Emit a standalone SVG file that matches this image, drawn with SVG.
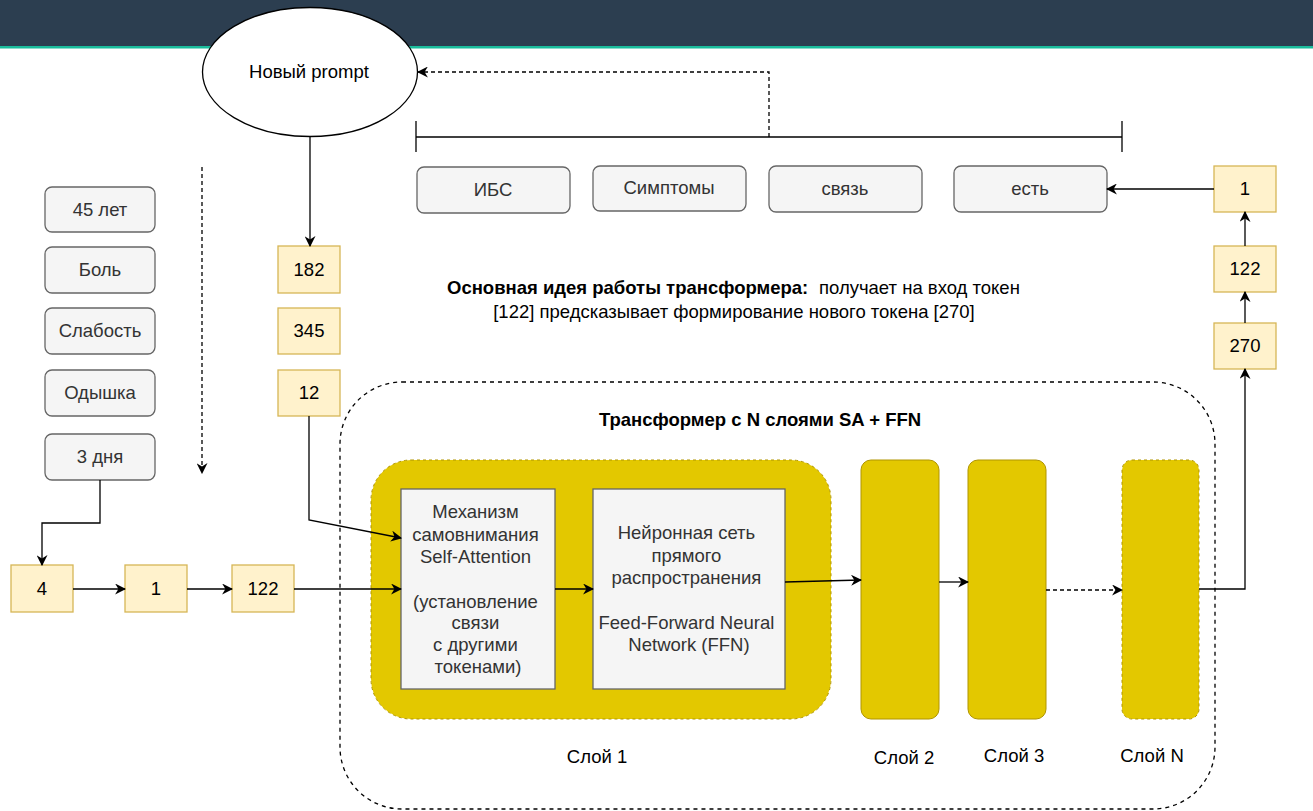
<svg xmlns="http://www.w3.org/2000/svg" width="1313" height="811" viewBox="0 0 1313 811">
<style>
text{font-family:"Liberation Sans",Arial,sans-serif;font-size:18.5px;fill:#000;}
.g{fill:#f5f5f5;stroke:#666;stroke-width:1.3;}
.gt{fill:#333;text-anchor:middle;}
.y{fill:#fff2cc;stroke:#d6b656;stroke-width:1.3;}
.yt{fill:#000;text-anchor:middle;}
.lay{fill:#e3c800;stroke:#b09500;stroke-width:1;}
.dsh{stroke-dasharray:3 3;}
.c{fill:none;stroke:#000;stroke-width:1.3;}
.cd{fill:none;stroke:#000;stroke-width:1.3;stroke-dasharray:4 3;}
.lbl{text-anchor:middle;fill:#000;}
</style>
<defs>
<marker id="ar" viewBox="0 0 10 10" refX="9" refY="5" markerWidth="11" markerHeight="11" markerUnits="userSpaceOnUse" orient="auto">
<path d="M0,0 L10,5 L0,10 L3,5 z" fill="#000"/>
</marker>
</defs>
<rect x="0" y="0" width="1313" height="811" fill="#fff"/>
<g id="header">
<rect x="0" y="0" width="1313" height="46" fill="#2c3e50"/>
<rect x="0" y="46" width="1313" height="2.5" fill="#1abc9c"/>
</g>

<g id="container">
<rect x="340" y="382" width="875" height="427" rx="62" ry="62" fill="none" stroke="#000" stroke-width="1.3" stroke-dasharray="4 4"/>
<text x="760" y="426" class="lbl" font-weight="bold">Трансформер с N слоями SA + FFN</text>
</g>

<g id="prompt">
<ellipse cx="310" cy="72" rx="107.5" ry="64.5" fill="#fff" stroke="#000" stroke-width="1.3"/>
<text x="309" y="78" class="lbl">Новый prompt</text>
</g>

<g id="bracket">
<line x1="416" y1="137" x2="1122" y2="137" stroke="#000" stroke-width="1.3"/>
<line x1="416" y1="121" x2="416" y2="152" stroke="#000" stroke-width="1.3"/>
<line x1="1122" y1="121" x2="1122" y2="152" stroke="#000" stroke-width="1.3"/>
</g>

<g id="top-words">
<g id="w-ibs"><rect x="417" y="167" width="153" height="46" rx="7" class="g"/><text x="493" y="196" class="gt">ИБС</text></g>
<g id="w-simp"><rect x="593" y="166" width="153" height="45" rx="7" class="g"/><text x="669" y="194" class="gt">Симптомы</text></g>
<g id="w-svyaz"><rect x="769" y="166" width="153" height="46" rx="7" class="g"/><text x="845" y="195" class="gt">связь</text></g>
<g id="w-est"><rect x="954" y="166" width="153" height="46" rx="7" class="g"/><text x="1030" y="195" class="gt">есть</text></g>
</g>

<g id="left-words">
<g id="w-45"><rect x="45" y="187" width="110" height="45" rx="7" class="g"/><text x="100" y="216" class="gt">45 лет</text></g>
<g id="w-bol"><rect x="45" y="247" width="110" height="46" rx="7" class="g"/><text x="100" y="276" class="gt">Боль</text></g>
<g id="w-slab"><rect x="45" y="308" width="110" height="46" rx="7" class="g"/><text x="100" y="337" class="gt">Слабость</text></g>
<g id="w-odysh"><rect x="45" y="370" width="110" height="46" rx="7" class="g"/><text x="100" y="399" class="gt">Одышка</text></g>
<g id="w-3dnya"><rect x="45" y="434" width="110" height="46" rx="7" class="g"/><text x="100" y="463" class="gt">3 дня</text></g>
</g>

<g id="mid-tokens">
<g id="t-182"><rect x="278" y="246" width="62" height="47" class="y"/><text x="309" y="276" class="yt">182</text></g>
<g id="t-345"><rect x="278" y="308" width="62" height="46" class="y"/><text x="309" y="337" class="yt">345</text></g>
<g id="t-12"><rect x="278" y="370" width="62" height="46" class="y"/><text x="309" y="399" class="yt">12</text></g>
</g>

<g id="bottom-tokens">
<g id="t-4"><rect x="11" y="565" width="62" height="47" class="y"/><text x="42" y="595" class="yt">4</text></g>
<g id="t-1"><rect x="125" y="565" width="62" height="47" class="y"/><text x="156" y="595" class="yt">1</text></g>
<g id="t-122"><rect x="232" y="565" width="62" height="47" class="y"/><text x="263" y="595" class="yt">122</text></g>
</g>

<g id="right-tokens">
<g id="r-1"><rect x="1214" y="166" width="62" height="46" class="y"/><text x="1245" y="195" class="yt">1</text></g>
<g id="r-122"><rect x="1214" y="246" width="62" height="46" class="y"/><text x="1245" y="275" class="yt">122</text></g>
<g id="r-270"><rect x="1214" y="323" width="62" height="46" class="y"/><text x="1245" y="352" class="yt">270</text></g>
</g>

<g id="idea">
<text x="447" y="294"><tspan font-weight="bold">Основная идея работы трансформера:</tspan><tspan x="819">получает на вход токен</tspan></text>
<text x="734" y="318" class="lbl">[122] предсказывает формирование нового токена [270]</text>
</g>

<g id="layer1">
<rect x="371" y="460" width="460" height="259" rx="40" ry="40" class="lay dsh"/>
<g id="sa">
<rect x="401" y="489" width="154" height="200" fill="#f5f5f5" stroke="#666" stroke-width="1.3"/>
<text class="gt">
<tspan x="478" y="518">Механизм</tspan>
<tspan x="478" y="541">самовнимания</tspan>
<tspan x="478" y="563">Self-Attention</tspan>
<tspan x="478" y="608">(установление</tspan>
<tspan x="478" y="629">связи</tspan>
<tspan x="478" y="651">с другими</tspan>
<tspan x="478" y="673">токенами)</tspan>
</text>
</g>
<g id="ffn">
<rect x="593" y="489" width="192" height="200" fill="#f5f5f5" stroke="#666" stroke-width="1.3"/>
<text class="gt">
<tspan x="689" y="539">Нейронная сеть</tspan>
<tspan x="689" y="562">прямого</tspan>
<tspan x="689" y="584">распространения</tspan>
<tspan x="689" y="629">Feed-Forward Neural</tspan>
<tspan x="689" y="651">Network (FFN)</tspan>
</text>
</g>
<text x="597" y="763" class="lbl">Слой 1</text>
</g>

<g id="layer2">
<rect x="861" y="460" width="78" height="259" rx="10" class="lay"/>
<text x="904" y="764" class="lbl">Слой 2</text>
</g>
<g id="layer3">
<rect x="968" y="460" width="78" height="259" rx="10" class="lay"/>
<text x="1014" y="762" class="lbl">Слой 3</text>
</g>
<g id="layerN">
<rect x="1122" y="460" width="77" height="259" rx="10" class="lay dsh"/>
<text x="1152" y="762" class="lbl">Слой N</text>
</g>

<g id="connectors">
<path class="c" d="M310,136 L310,246" marker-end="url(#ar)"/>
<path class="cd" d="M769,137 L769,72 L418,72" marker-end="url(#ar)"/>
<path class="cd" d="M202,167 L202,473" stroke-dasharray="4 4" marker-end="url(#ar)"/>
<path class="c" d="M100,480 L100,523 L42,523 L42,565" marker-end="url(#ar)"/>
<path class="c" d="M73,589 L125,589" marker-end="url(#ar)"/>
<path class="c" d="M187,589 L232,589" marker-end="url(#ar)"/>
<path class="c" d="M294,589 L401,589" marker-end="url(#ar)"/>
<path class="c" d="M309,416 L309,520 L401,538" marker-end="url(#ar)"/>
<path class="c" d="M555,589 L593,589" marker-end="url(#ar)"/>
<path class="c" d="M785,582 L861,580" marker-end="url(#ar)"/>
<path class="c" d="M939,582 L968,582" marker-end="url(#ar)"/>
<path class="cd" d="M1046,590 L1122,590" marker-end="url(#ar)"/>
<path class="c" d="M1199,589 L1245,589 L1245,369" marker-end="url(#ar)"/>
<path class="c" d="M1245,323 L1245,292" marker-end="url(#ar)"/>
<path class="c" d="M1245,246 L1245,212" marker-end="url(#ar)"/>
<path class="c" d="M1214,189 L1107,189" marker-end="url(#ar)"/>
</g>
</svg>
